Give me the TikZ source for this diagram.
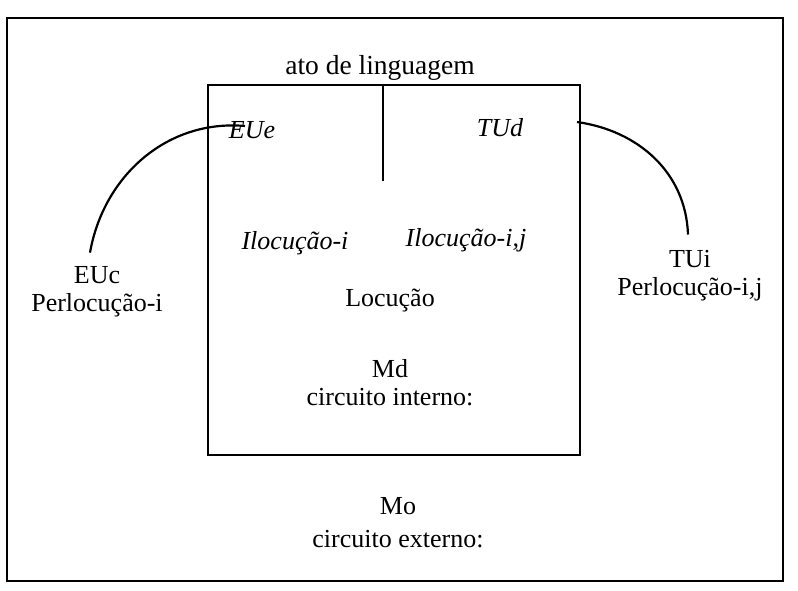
\documentclass[tikz,border=0pt]{standalone}
\usepackage{fontspec}
\setmainfont{Liberation Serif}
\usepackage{tikz}
\usetikzlibrary{positioning}

\begin{document}
\begin{tikzpicture}[x=1pt, y=-1pt, line width=2.2pt,
    every node/.style={font=\fontsize{26}{28}\selectfont, inner sep=1pt},
    talk/.style={font=\fontsize{26}{28}\selectfont\itshape}]

    \useasboundingbox (0,0) rectangle (798,591);

    % Frames
    \draw (7,18) rectangle (783,581);
    \node (inner) [draw, minimum width=372pt, minimum height=370pt, inner sep=0pt] at (394,270) {};
    \draw ([xshift=-11pt]inner.north) -- ++(0,97);

    % Nodes
    \node (ato) [font=\fontsize{27.5}{30}\selectfont] at (380,68) {ato de linguagem};
    \node (eue) [talk] at (252,130) {EUe};
    \node (tud) [talk] at (500,128) {TUd};
    \node (iloci) [talk] at (295,243) {Ilocução-i};
    \node (ilocij) [talk] at (466,240) {Ilocução-i,j};
    \node (loc) at (390,301) {Locução};
    \node (md) [align=center] at (390,383) {Md\\circuito interno:};
    \node (mo) [align=center] at (398,523) {Mo\\[5pt]circuito externo:};
    \node (euc) [align=center] at (97,292) {EUc\\Perlocução-i};
    \node (tui) [align=center] at (690,276) {TUi\\Perlocução-i,j};

    % Arcs from the speakers to the outer subjects
    \coordinate (eue-tip) at (245,126);
    \coordinate (tud-tip) at (577,122);
    \draw (eue-tip) to[out=175, in=80] ([xshift=-7pt, yshift=12pt]euc.north);
    \draw (tud-tip) to[out=-8, in=92] ([xshift=-2pt, yshift=14pt]tui.north);

\end{tikzpicture}
\end{document}
